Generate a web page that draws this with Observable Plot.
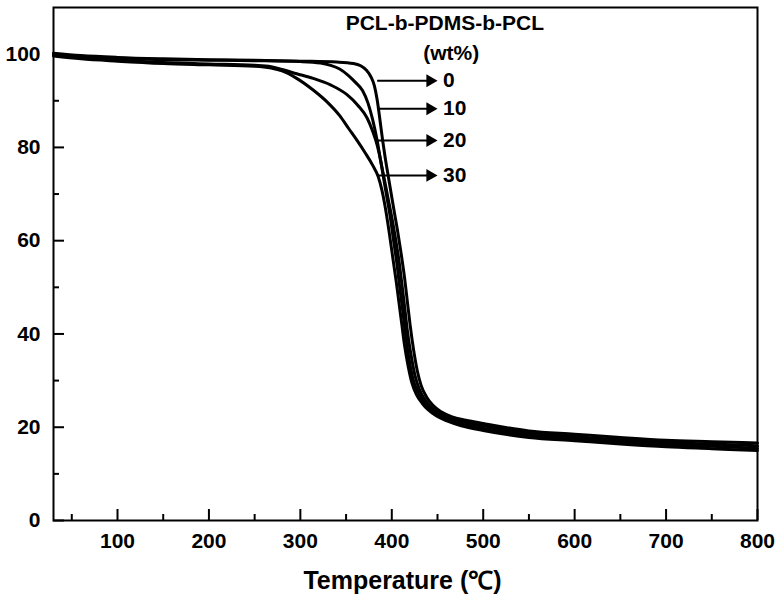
<!DOCTYPE html>
<html><head><meta charset="utf-8">
<script src="https://cdn.jsdelivr.net/npm/d3@7"></script>
<script src="https://cdn.jsdelivr.net/npm/@observablehq/plot@0.6"></script>
<style>body{margin:0;background:#fff}</style>
</head><body><div id="chart"></div>
<script>
// Series (PCL-b-PDMS-b-PCL content, wt%)
const seriesNames = ["0", "10", "20", "30"];

const temp0 = [30,60,100,150,200,250,300,340,358,366,372,377,381,384,387,390,393,396,399,402,406,410,414,417,420,424,428,432,438,445,454,466,481,500,550,600,650,700,750,800];
const wt0   = [100.2,99.7,99.3,99.0,98.8,98.7,98.5,98.3,98.0,97.5,96.6,95.2,93.2,90.2,86,81.5,77.5,74,70.5,67,62.5,57.5,52,47,42,36.4,32,29,26.5,24.7,23.3,22.2,21.5,20.8,19.2,18.5,17.8,17.2,16.9,16.6];

const temp10 = [30,60,100,150,200,250,300,322,333,343,352,360,368,374,379,384,388,392,396,400,404,408,411.5,414.5,417.5,421.5,425.5,430,436,443,452,464,479,500,550,600,650,700,750,800];
const wt10   = [100,99.5,99.1,98.8,98.7,98.6,98.4,98.1,97.6,96.8,95.5,94.0,92.2,89.5,86,81.5,77,73,69,65,60.5,55.5,50,45,40,35,31,28.2,26,24.3,23,21.9,21.1,20.3,18.7,18.0,17.3,16.7,16.4,16.0];

const temp20 = [30,60,100,150,200,250,268,280,296,314,333,351,363,373,379,384,388,391,394,398,402,406,409,412,415,419,423,428,434,441,450,462,477,500,550,600,650,700,750,800];
const wt20   = [99.8,99.2,98.7,98.2,97.9,97.6,97.3,96.7,95.8,94.8,93.4,91.3,89,86.3,83.5,80.5,77,73.5,70,65.5,60,54.5,49.5,45,40,34.5,30.5,27.8,25.7,24.0,22.7,21.6,20.7,19.8,18.3,17.6,16.9,16.3,15.9,15.5];

const temp30 = [30,60,100,150,200,250,268,280,296,314,330,343,353,362,371,379,385,389,393,397,401,405,408,411,414,418,422,427,433,440,449,461,476,500,550,600,650,700,750,800];
const wt30   = [99.6,99.0,98.5,98.0,97.7,97.4,97.0,96.4,94.8,92.3,89.6,86.8,84,81.5,78.8,76.2,73.8,71,67,62,56.5,51,46.5,42,37.5,33,29.5,27,25.2,23.7,22.4,21.3,20.3,19.3,17.8,17.1,16.4,15.8,15.4,15.0];

// Axis ticks
const xMajor = [100,200,300,400,500,600,700,800];
const xMinor = [50,150,250,350,450,550,650,750];
const yMajor = [0,20,40,60,80,100];
const yMinor = [10,30,50,70,90];

const temps = [temp0, temp10, temp20, temp30];
const wts = [wt0, wt10, wt20, wt30];
const rows = seriesNames.flatMap((s, i) => temps[i].map((t, j) => ({series: s, t, w: wts[i][j]})));

// Legend arrows (label, level in wt% axis units)
const arrowLevels = [94.3, 88.3, 81.5, 74.0];
const legendRows = seriesNames.map((s, i) => ({label: s, w: arrowLevels[i]}));

const font = "'Liberation Sans', Arial, Helvetica, sans-serif";
const W = 784, H = 607, mL = 53, mR = 27, mT = 7, mB = 87;
const frameW = W - mL - mR, frameH = H - mT - mB;

const chart = Plot.plot({
  width: W,
  height: H,
  marginLeft: mL,
  marginRight: mR,
  marginTop: mT,
  marginBottom: mB,
  style: {fontFamily: font, fontWeight: "bold", background: "#fff", color: "#000"},
  x: {domain: [30, 800]},
  y: {domain: [0, 110]},
  marks: [
    Plot.line(rows, {x: "t", y: "w", z: "series", stroke: "#000", strokeWidth: 3, curve: "monotone-x"}),
    // legend arrows
    Plot.link(legendRows, {x1: () => 384, x2: () => 443, y1: "w", y2: "w", stroke: "#000", strokeWidth: 2}),
    Plot.dot(legendRows, {x: () => 443, y: "w", symbol: "triangle", rotate: 90, r: 4.8, fill: "#000", stroke: null, dx: -1}),
    Plot.text(legendRows, {x: () => 456, y: "w", text: "label", textAnchor: "start", fontSize: 21, fontWeight: "bold", fill: "#000"}),
    Plot.text(["PCL-b-PDMS-b-PCL"], {x: () => 458, y: () => 106.6, text: d => d, fontSize: 21, fontWeight: "bold", fill: "#000"}),
    Plot.text(["(wt%)"], {x: () => 465, y: () => 100.2, text: d => d, fontSize: 21, fontWeight: "bold", fill: "#000"}),
    // inward ticks
    Plot.tickX(xMajor, {insetTop: frameH - 11, stroke: "#000", strokeWidth: 2}),
    Plot.tickX(xMinor, {insetTop: frameH - 6, stroke: "#000", strokeWidth: 2}),
    Plot.tickY(yMajor, {insetRight: frameW - 11, stroke: "#000", strokeWidth: 2}),
    Plot.tickY(yMinor, {insetRight: frameW - 6, stroke: "#000", strokeWidth: 2}),
    // tick labels
    Plot.axisX(xMajor, {tickSize: 0, tickPadding: 13, fontSize: 21, label: null, tickFormat: d => String(d)}),
    Plot.axisY(yMajor, {tickSize: 0, tickPadding: 13, fontSize: 21, label: null, tickFormat: d => String(d)}),
    Plot.text(["Temperature (\u2103)"], {frameAnchor: "bottom", dy: 68, text: d => d, fontSize: 25, fontWeight: "bold", fill: "#000", dx: -3}),
    Plot.frame({stroke: "#000", strokeWidth: 2})
  ]
});
document.getElementById("chart").appendChild(chart);
</script>
</body></html>
